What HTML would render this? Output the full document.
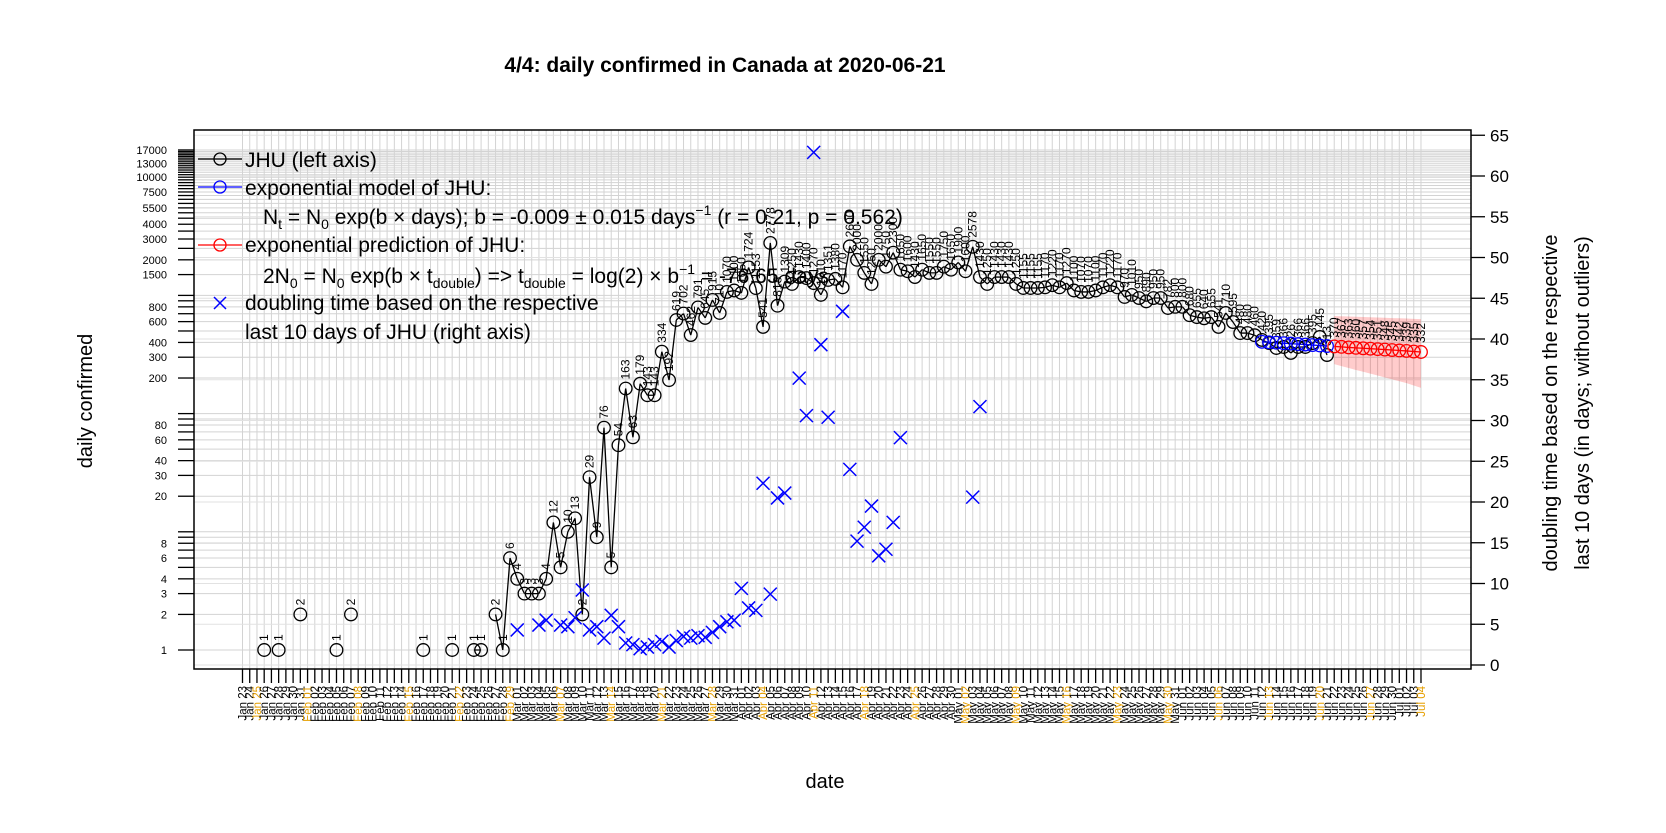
<!DOCTYPE html>
<html><head><meta charset="utf-8"><title>daily confirmed in Canada</title>
<style>
html,body{margin:0;padding:0;background:#fff;}
svg{display:block;font-family:"Liberation Sans",sans-serif;}
</style></head>
<body>
<svg id="chart" width="1666" height="833" viewBox="0 0 1666 833" xmlns="http://www.w3.org/2000/svg">
  <rect x="0" y="0" width="1666" height="833" fill="#fff"/>
  <g id="grid"></g>
  <g id="band"></g>
  <g id="series"></g>
  <g id="axes"></g>
  <text x="725" y="72" text-anchor="middle" font-size="21" font-weight="bold">4/4: daily confirmed in Canada at 2020-06-21</text>
  <text transform="translate(92,401) rotate(-90)" text-anchor="middle" font-size="20">daily confirmed</text>
  <text x="825" y="788" text-anchor="middle" font-size="20">date</text>
  <text transform="translate(1557,403) rotate(-90)" text-anchor="middle" font-size="20">doubling time based on the respective</text>
  <text transform="translate(1589,403) rotate(-90)" text-anchor="middle" font-size="20">last 10 days (in days; without outliers)</text>
  <g id="legend">
    <g>
      <line x1="198" y1="159" x2="242" y2="159" stroke="#000" stroke-width="1.3"/>
      <circle cx="220" cy="159" r="6" fill="none" stroke="#000" stroke-width="1.3"/>
      <text x="245" y="167" font-size="21">JHU (left axis)</text>
    </g>
    <g>
      <line x1="198" y1="187" x2="242" y2="187" stroke="#0000ff" stroke-width="1.3"/>
      <circle cx="220" cy="187" r="6" fill="none" stroke="#0000ff" stroke-width="1.3"/>
      <text x="245" y="195" font-size="21">exponential model of JHU:</text>
    </g>
    <text x="263" y="224" font-size="21">N<tspan font-size="14" dy="5">t</tspan><tspan dy="-5"> = N</tspan><tspan font-size="14" dy="5">0</tspan><tspan dy="-5"> exp(b × days); b = -0.009 ± 0.015 days</tspan><tspan font-size="14" dy="-9">−1</tspan><tspan dy="9"> (r = 0.21, p = 0.562)</tspan></text>
    <g>
      <line x1="198" y1="245" x2="242" y2="245" stroke="#ff0000" stroke-width="1.3"/>
      <circle cx="220" cy="245" r="6" fill="none" stroke="#ff0000" stroke-width="1.3"/>
      <text x="245" y="252" font-size="21">exponential prediction of JHU:</text>
    </g>
    <text x="263" y="283" font-size="21">2N<tspan font-size="14" dy="5">0</tspan><tspan dy="-5"> = N</tspan><tspan font-size="14" dy="5">0</tspan><tspan dy="-5"> exp(b × t</tspan><tspan font-size="14" dy="5">double</tspan><tspan dy="-5">) =&gt; t</tspan><tspan font-size="14" dy="5">double</tspan><tspan dy="-5"> = log(2) × b</tspan><tspan font-size="14" dy="-9">−1</tspan><tspan dy="9"> = -76.65 days</tspan></text>
    <g>
      <path d="M214 297 L226 309 M226 297 L214 309" stroke="#0000ff" stroke-width="1.5"/>
      <text x="245" y="310" font-size="21">doubling time based on the respective</text>
      <text x="245" y="339" font-size="21">last 10 days of JHU (right axis)</text>
    </g>
  </g>
</svg>
<script>
// ---- data ----
const jhuDays = [3,5,8,13,15,25,29,32,33,35,36,37,38,39,40,41,42,43,44,45,46,47,48,49,50,51,52,53,54,55,56,57,58,59,60,61,62,63,64,65,66,67,68,69,70,71,72,73,74,75,76,77,78,79,80,81,82,83,84,85,86,87,88,89,90,91,92,93,94,95,96,97,98,99,100,101,102,103,104,105,106,107,108,109,110,111,112,113,114,115,116,117,118,119,120,121,122,123,124,125,126,127,128,129,130,131,132,133,134,135,136,137,138,139,140,141,142,143,144,145,146,147,148,149,150];
const jhuValues = [1,1,2,1,2,1,1,1,1,2,1,6,4,3,3,3,4,12,5,10,13,2,29,9,76,5,54,163,63,179,143,143,334,192,619,702,462,791,645,915,710,1070,1100,1050,1724,1153,541,2778,818,1309,1250,1430,1400,1270,1010,1351,1380,1170,2600,2000,1550,1250,2000,1750,2300,1650,1600,1430,1650,1550,1550,1750,1650,1900,1600,2578,1430,1250,1430,1430,1430,1250,1155,1155,1155,1170,1220,1170,1270,1100,1070,1070,1100,1170,1220,1170,970,1010,950,890,950,950,782,800,800,680,655,640,655,541,710,595,480,480,460,420,395,359,366,326,366,366,395,445,313];
const modelDays = [141,142,143,144,145,146,147,148,149,150];
const modelValues = [405,401,398,394,391,387,384,380,377,373];
const predDays = [151,152,153,154,155,156,157,158,159,160,161,162,163];
const predValues = [370,367,363,360,357,354,351,348,345,342,339,335,332];
const predUpper = [670,667,663,660,657,653,650,647,643,640,637,633,630];
const predLower = [262,252,243,234,226,218,210,202,195,188,181,173,165];
const dblDays = [38,41,42,44,45,46,47,48,49,50,51,52,53,54,55,56,57,58,59,60,61,62,63,64,65,66,67,68,69,70,71,72,73,74,75,77,78,79,80,81,83,84,85,86,87,88,89,90,91,101,102];
const dblValues = [4.3,4.9,5.5,4.9,4.7,5.8,9.2,4.3,4.7,3.3,6.1,4.7,2.7,2.5,2.0,2.2,2.5,2.9,2.2,3.0,3.5,3.3,3.6,3.4,4.0,4.7,5.3,5.5,9.4,7.0,6.7,22.3,8.7,20.5,21.1,35.2,30.6,62.9,39.3,30.4,43.4,24.0,15.2,16.9,19.5,13.4,14.2,17.5,27.9,20.6,31.7];
const leftTickValues = [1,2,3,4,5,6,7,8,9,10,20,30,40,50,60,70,80,90,100,200,300,400,500,600,700,800,900,1000,1500,2000,2500,3000,3500,4000,4500,5000,5500,6000,6500,7000,7500,8000,8500,9000,9500,10000,10500,11000,11500,12000,12500,13000,13500,14000,14500,15000,15500,16000,16500,17000];
const leftTickLabels = ["1","2","3","4","6","8","20","30","40","60","80","200","300","400","600","800","1500","2000","3000","4000","5500","7500","10000","13000","17000"];
const rightTickValues = [0,5,10,15,20,25,30,35,40,45,50,55,60,65];
const dayCount = 164;

// ---- axis functions ----
const PL=194, PR=1471, PT=130, PB=669;
function xDay(d){ return 242.5 + 7.23*d; }
function yLeft(v){ return 650 - 118.2*Math.log10(v); }
function yRight(v){ return 665 - 8.15*v; }

const NS="http://www.w3.org/2000/svg";
function mk(tag, attrs, parent){
  const e=document.createElementNS(NS,tag);
  for(const k in attrs) e.setAttribute(k, attrs[k]);
  parent.appendChild(e);
  return e;
}
const grid=document.getElementById('grid');
const axes=document.getElementById('axes');
const series=document.getElementById('series');
const band=document.getElementById('band');

for(let d=0; d<dayCount; d++){
  const l=mk('line',{x1:xDay(d),x2:xDay(d),y1:PT,y2:PB,stroke:'#d3d3d3','stroke-width':1},grid);
  
  
}
leftTickValues.forEach(v=>{
  const y=yLeft(v);
  const l=mk('line',{x1:PL,x2:PR,y1:y,y2:y,stroke:'#d3d3d3','stroke-width':1},grid);
  
  
});
rightTickValues.forEach(v=>{
  const y=yRight(v);
  const l=mk('line',{x1:PL,x2:PR,y1:y,y2:y,stroke:'#e2e2e2','stroke-width':1},grid);
  
  
});

{
  let pts=[];
  for(let i=0;i<predDays.length;i++) pts.push(xDay(predDays[i])+','+yLeft(predUpper[i]));
  for(let i=predDays.length-1;i>=0;i--) pts.push(xDay(predDays[i])+','+yLeft(predLower[i]));
  const p=mk('polygon',{points:pts.join(' '),fill:'#ff0000','fill-opacity':0.2,stroke:'none'},band);
  
  
}

{
  let d='';
  for(let i=1;i<jhuDays.length;i++){
    if(jhuDays[i]-jhuDays[i-1]===1){
      d+='M'+xDay(jhuDays[i-1])+' '+yLeft(jhuValues[i-1])+' L'+xDay(jhuDays[i])+' '+yLeft(jhuValues[i])+' ';
    }
  }
  const p=mk('path',{d:d,stroke:'#000','stroke-width':1.3,fill:'none'},series);
  
  
}
{
  const pts=modelDays.map((d,i)=>xDay(d)+','+yLeft(modelValues[i])).join(' ');
  const p=mk('polyline',{points:pts,stroke:'#0000ff','stroke-width':1.3,fill:'none'},series);
  
  
  const pts2=predDays.map((d,i)=>xDay(d)+','+yLeft(predValues[i])).join(' ');
  const q=mk('polyline',{points:pts2,stroke:'#ff0000','stroke-width':1.3,fill:'none'},series);
  
  
}
function pointWithLabel(d,v,color,name){
  const x=xDay(d), y=yLeft(v);
  const c=mk('circle',{cx:x,cy:y,r:6.3,fill:'none',stroke:color,'stroke-width':1.3},series);
  
  
  const t=mk('text',{transform:'translate('+(x+4)+','+(y-9)+') rotate(-90)','font-size':12,fill:'#000'},series);
  t.textContent=String(v);
  
  
}
jhuDays.forEach((d,i)=>pointWithLabel(d,jhuValues[i],'#000','jhu-point'));
modelDays.forEach((d,i)=>{
  const c=mk('circle',{cx:xDay(d),cy:yLeft(modelValues[i]),r:6.3,fill:'none',stroke:'#0000ff','stroke-width':1.3},series);
  
  
});
predDays.forEach((d,i)=>pointWithLabel(d,predValues[i],'#ff0000','prediction-point'));

dblDays.forEach((d,i)=>{
  const x=xDay(d), y=yRight(dblValues[i]), s=6.5;
  const p=mk('path',{d:'M'+(x-s)+' '+(y-s)+' L'+(x+s)+' '+(y+s)+' M'+(x+s)+' '+(y-s)+' L'+(x-s)+' '+(y+s),stroke:'#0000ff','stroke-width':1.5,fill:'none'},series);
  
  
});

{
  const r=mk('rect',{x:PL,y:PT,width:PR-PL,height:PB-PT,fill:'none',stroke:'#000','stroke-width':1.5},axes);
  
  
}
leftTickValues.forEach(v=>{
  const y=yLeft(v);
  const l=mk('line',{x1:178,x2:PL,y1:y,y2:y,stroke:'#000','stroke-width':1.3},axes);
  
  
});
leftTickLabels.forEach(s=>{
  const t=mk('text',{x:167,y:yLeft(Number(s))+4,'text-anchor':'end','font-size':11},axes);
  t.textContent=s;
  
  
});
rightTickValues.forEach(v=>{
  const y=yRight(v);
  const l=mk('line',{x1:PR,x2:PR+14,y1:y,y2:y,stroke:'#000','stroke-width':1.3},axes);
  
  
  const t=mk('text',{x:PR+19,y:y+6,'font-size':17},axes);
  t.textContent=String(v);
  
  
});
const months=['Jan','Feb','Mar','Apr','May','Jun','Jul'];
for(let d=0; d<dayCount; d++){
  const x=xDay(d);
  const l=mk('line',{x1:x,x2:x,y1:PB,y2:PB+14,stroke:'#000','stroke-width':1.3},axes);
  
  
  const dt=new Date(Date.UTC(2020,0,23+d));
  const lab=months[dt.getUTCMonth()]+' '+String(dt.getUTCDate()).padStart(2,'0');
  const sat=dt.getUTCDay()===6;
  const t=mk('text',{transform:'translate('+(x+4)+','+(PB+17)+') rotate(-90)','text-anchor':'end','font-size':11.5,fill:sat?'#e69f00':'#000'},axes);
  t.textContent=lab;
  
  
}
</script>
</body></html>
